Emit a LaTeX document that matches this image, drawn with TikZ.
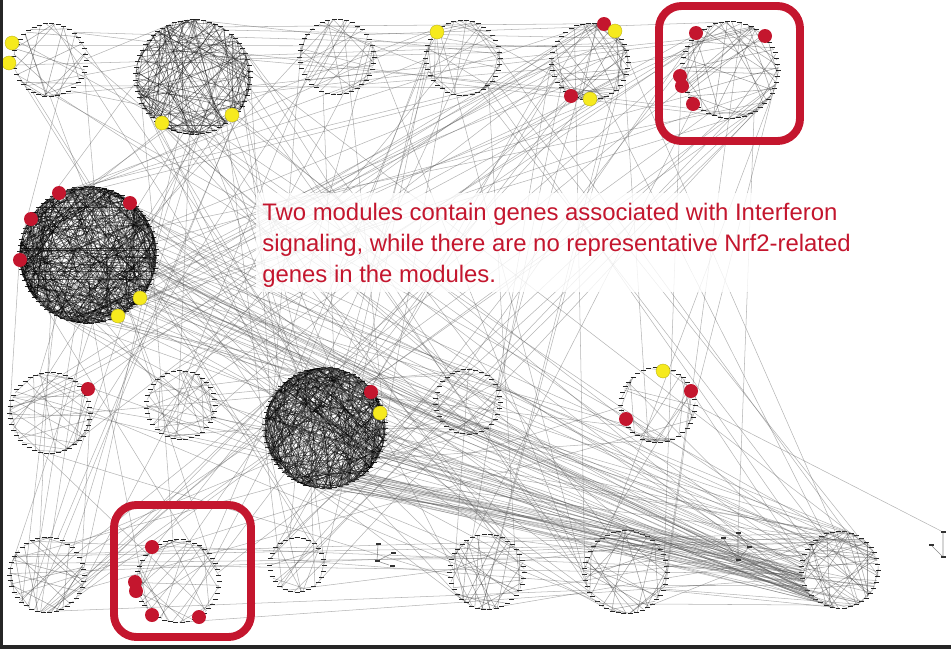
\documentclass[tikz,border=0pt]{standalone}
\usepackage{fontspec}
\setmainfont{Liberation Sans}
\definecolor{markred}{RGB}{196,22,46}
\definecolor{markyellow}{RGB}{246,234,30}
\tikzset{
  module/.style={circle,inner sep=0pt},
  tick/.style={draw=black!85,line width=0.55pt},
  link/.style={draw=black!65,line width=0.3pt,opacity=0.45},
  inlink/.style={draw=black,line width=0.3pt},
  reddot/.style={circle,fill=markred,inner sep=0pt,minimum size=0.28cm},
  yellowdot/.style={circle,fill=markyellow,draw=markyellow!75!black,line width=0.2pt,inner sep=0pt,minimum size=0.28cm},
  gene/.style={inner sep=0pt,minimum width=0.1cm,minimum height=0.03cm,fill=black!80},
  markbox/.style={draw=markred,line width=4.5pt,rounded corners=0.45cm}
}

\begin{document}
\begin{tikzpicture}[x=0.02cm,y=-0.02cm]
\useasboundingbox (0,0) rectangle (951,653);
\pgfmathsetseed{4242}

% modules
\foreach \n/\x/\y/\r in {1/50/60/36,2/193/77/57,3/337/57/37,4/463/58/37,5/590/62/38,
  6/730/70/48,7/88/255/68,8/50/413/40,9/181/405/34,10/325/428/60,11/468/402/32,
  12/658/405/37,13/47/575/37,14/178/581/41,15/297/565/27,17/487/572/37,18/626/572/41,
  19/840/570/38}{
  \node[module,minimum size={0.04cm*\r}] (m\n) at (\x,\y) {};
  \pgfmathtruncatemacro{\nt}{\r*1.05}
  \foreach \j in {1,...,\nt}{
    \pgfmathtruncatemacro{\a}{(\j/\nt)*360}
    \draw[tick] ([xshift=-0.05cm]m\n.\a) -- ([xshift=0.05cm]m\n.\a);
  }
}

% edges inside modules
\foreach \n/\k/\o in {1/20/0.35,2/130/0.5,3/25/0.3,4/30/0.3,5/45/0.35,6/45/0.35,
  7/420/0.6,8/30/0.3,9/25/0.3,10/360/0.6,11/15/0.3,12/25/0.3,13/25/0.35,
  14/30/0.3,15/12/0.3,17/25/0.35,18/30/0.35,19/40/0.35}{
  \foreach \j in {1,...,\k}{
    \pgfmathrandominteger{\p}{0}{359}
    \pgfmathrandominteger{\q}{0}{359}
    \draw[inlink,draw opacity=\o] (m\n.\p) -- (m\n.\q);
  }
}

% edges between modules
\def\pool{{7,7,7,7,7,10,10,10,10,2,2,2,5,5,6,6,19,19,19,17,18,14,13,8,9,1,3,4,11,12,15,18}}
\foreach \k in {1,...,320}{
  \pgfmathrandominteger{\ia}{0}{31}
  \pgfmathrandominteger{\ib}{0}{31}
  \pgfmathtruncatemacro{\a}{\pool[\ia]}
  \pgfmathtruncatemacro{\b}{\pool[\ib]}
  \pgfmathrandominteger{\p}{0}{359}
  \pgfmathrandominteger{\q}{0}{359}
  \draw[link] (m\a.\p) -- (m\b.\q);
}
% bundle into the right module
\foreach \k in {1,...,30}{
  \pgfmathrandominteger{\p}{280}{359}
  \pgfmathrandominteger{\q}{180}{240}
  \draw[link] (m10.\p) -- (m19.\q);
}
\foreach \k in {1,...,20}{
  \pgfmathrandominteger{\p}{300}{359}
  \pgfmathrandominteger{\q}{150}{230}
  \draw[link] (m7.\p) -- (m19.\q);
}

% small motifs
\node[gene] (t1) at (378,544) {};
\node[gene] (t2) at (377,561) {};
\node[gene] (t3) at (393,553) {};
\node[gene] (t4) at (392,566) {};
\draw[link,opacity=0.7] (t1) -- (t2) -- (t3);
\draw[link,opacity=0.7] (t2) -- (t4);
\node[gene] (u1) at (738,533) {};
\node[gene] (u2) at (738,560) {};
\node[gene] (u3) at (723,538) {};
\node[gene] (u4) at (749,547) {};
\draw[link,opacity=0.7] (u1) -- (u2) -- (u4) -- (u1);
\draw[link,opacity=0.7] (u3) -- (u2);
\node[gene] (v1) at (943,532) {};
\node[gene] (v2) at (943,557) {};
\node[gene] (v3) at (931,545) {};
\draw[link,opacity=0.7] (v1) -- (v2) -- (v3);
\draw[link] (m12.0) -- (v1);
\draw[link] (m6.300) -- (u1);

% genes in the interferon signaling
\foreach \x/\y [count=\i] in {604/24,571/96,696/33,765/36,680/76,682/86,693/104,
  59/193,31/219,130/203,20/260,88/389,371/392,691/391,626/419,
  152/547,135/582,136/591,152/615,199/617}
  \node[reddot] (r\i) at (\x,\y) {};
% genes of the Nrf2 set
\foreach \x/\y [count=\i] in {12/43,9/63,162/123,232/115,437/32,615/31,590/99,
  140/298,118/316,380/413,663/371}
  \node[yellowdot] (y\i) at (\x,\y) {};

% highlighted modules
\draw[markbox] (659,6) rectangle (800,141);
\draw[markbox] (114,505) rectangle (251,637);

% note
\fill[white,opacity=0.8] (256,193) rectangle (850,292);
\node[anchor=north west,inner sep=0pt,align=left,text=markred,
  font=\fontsize{13.6pt}{17.6pt}\selectfont] (note) at (262,203)
  {Two modules contain genes associated with Interferon\\
   signaling, while there are no representative Nrf2-related\\
   genes in the modules.};

% frame
\draw[line width=2.5pt,black!85] (1,0) -- (1,647) -- (951,647);
\end{tikzpicture}
\end{document}
